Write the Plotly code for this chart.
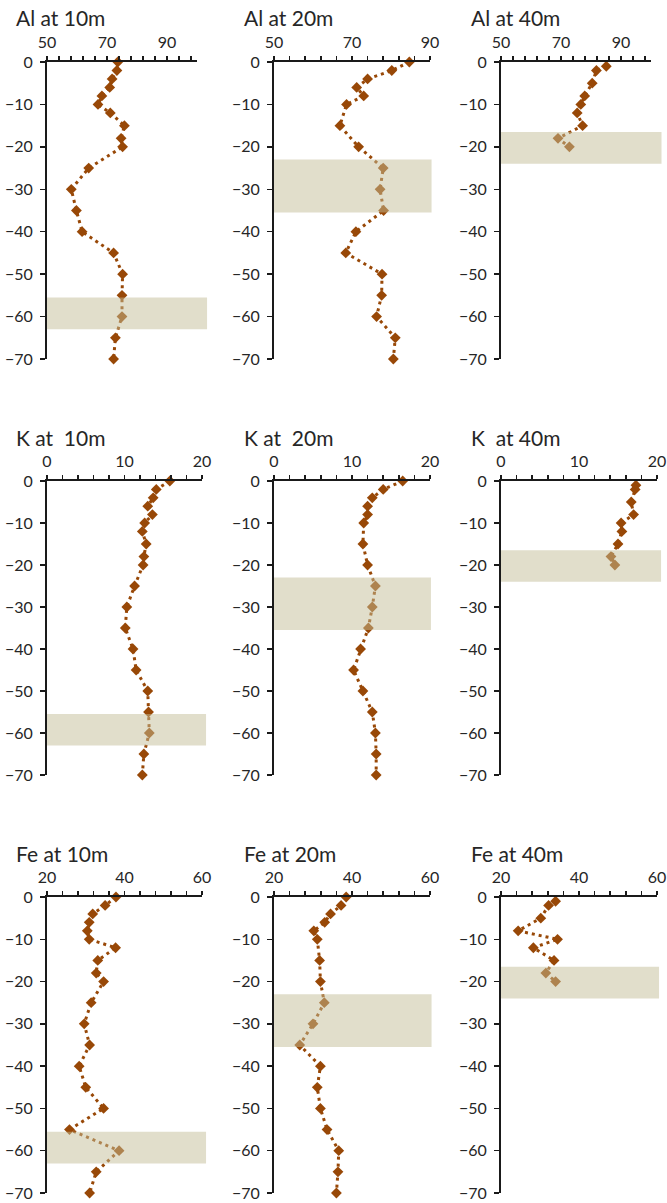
import plotly.graph_objects as go

# ---------------- data ----------------
depth_10m = [0, -2, -4, -6, -8, -10, -12, -15, -18, -20, -25, -30, -35, -40, -45, -50, -55, -60, -65, -70]
depth_20m = [0, -2, -4, -6, -8, -10, -15, -20, -25, -30, -35, -40, -45, -50, -55, -60, -65, -70]
depth_40m = [-1, -2, -5, -8, -10, -12, -15, -18, -20]

al_10m = [73.6, 73.3, 71.7, 70.9, 68.3, 67.0, 71.1, 75.8, 74.7, 75.2, 63.9, 58.1, 59.8, 61.7, 72.2, 75.2, 75.0, 75.0, 72.8, 72.2]
al_20m = [84.7, 80.2, 74.0, 71.2, 73.0, 68.6, 66.9, 71.7, 78.0, 77.2, 78.1, 71.0, 68.4, 77.7, 77.6, 76.3, 81.1, 80.6]
al_40m = [85.1, 81.8, 80.4, 77.9, 76.6, 75.4, 77.2, 69.0, 72.8]

k_10m = [15.85, 14.1, 13.7, 13.0, 13.6, 12.6, 12.3, 12.8, 12.5, 12.4, 11.3, 10.3, 10.1, 11.1, 11.5, 13.0, 13.1, 13.2, 12.5, 12.3]
k_20m = [16.5, 14.0, 12.6, 12.0, 12.0, 11.5, 11.4, 12.0, 13.0, 12.6, 12.1, 11.1, 10.2, 11.4, 12.6, 13.0, 13.1, 13.1]
k_40m = [17.3, 17.2, 16.7, 17.0, 15.4, 15.5, 15.0, 14.1, 14.6]

fe_10m = [37.8, 35.0, 31.8, 30.9, 30.4, 30.9, 37.7, 33.1, 32.7, 34.6, 31.4, 29.6, 31.0, 28.3, 30.0, 34.6, 25.8, 38.6, 32.7, 31.0]
fe_20m = [38.5, 37.2, 34.5, 33.0, 30.2, 31.1, 31.7, 31.9, 32.9, 30.0, 26.6, 31.9, 31.1, 31.9, 33.6, 36.6, 36.4, 36.0]
fe_40m = [34.0, 32.2, 30.2, 24.4, 34.5, 28.3, 33.6, 31.5, 34.0]

titles = [["Al at 10m", "Al at 20m", "Al at 40m"],
          ["K at  10m", "K at  20m", "K  at 40m"],
          ["Fe at 10m", "Fe at 20m", "Fe at 40m"]]

x_ranges = [[[50, 100], [50, 90], [50, 100]],
            [[0, 20], [0, 20], [0, 20]],
            [[20, 60], [20, 60], [20, 60]]]
x_major = [20, 10, 20]
x_minor = [4, 2, 4]

band_10m = [-63, -55.5]
band_20m = [-35.5, -23]
band_40m = [-24, -16.5]

y_range = [-70, 0]
y_ticks = [0, -10, -20, -30, -40, -50, -60, -70]

# ---------------- layout geometry (pixels) ----------------
W, H = 667, 1203
col_px = [[(47, 197), (274, 430), (501, 651)],
          [(47, 202), (274, 430), (501, 657)],
          [(47, 202), (274, 430), (501, 657)]]
row_px = [(62, 359), (481, 775), (897, 1193)]
title_x = [14, 242, 469]
title_y = [18, 438, 853]
band_ext = [[1.067, 1.01, 1.07], [1.026, 1.006, 1.026], [1.026, 1.01, 1.013]]

MARK = "#984807"
BAND = "rgba(196,189,151,0.5)"
TXT = "#262626"
FONT = "Lato"
TICK_SIZE = 16
TITLE_SIZE = 21

series = [[al_10m, al_20m, al_40m], [k_10m, k_20m, k_40m], [fe_10m, fe_20m, fe_40m]]
depths = [depth_10m, depth_20m, depth_40m]
bands = [band_10m, band_20m, band_40m]

fig = go.Figure()
layout = dict(template="none", width=W, height=H, margin=dict(l=0, r=0, t=0, b=0, pad=0),
              paper_bgcolor="white", plot_bgcolor="white", showlegend=False,
              font=dict(family=FONT, color=TXT))
shapes = []
annotations = []

n = 0
for r in range(3):
    for c in range(3):
        n += 1
        xa = "x" if n == 1 else f"x{n}"
        ya = "y" if n == 1 else f"y{n}"
        fig.add_trace(go.Scatter(
            x=series[r][c], y=depths[c], mode="lines+markers",
            xaxis=xa, yaxis=ya, cliponaxis=False,
            line=dict(color=MARK, width=3, dash="3px,4px"),
            marker=dict(symbol="diamond", size=8.3, color=MARK, line=dict(width=0)),
        ))
        x0p, x1p = col_px[r][c]
        y0p, y1p = row_px[r]
        layout["xaxis" if n == 1 else f"xaxis{n}"] = dict(
            domain=[x0p / W, x1p / W], range=x_ranges[r][c], anchor=ya,
            side="top", showgrid=False, zeroline=False, showline=True, automargin=False,
            linecolor="#1a1a1a", linewidth=2, ticks="outside", ticklen=4,
            tickwidth=1.5, tickcolor="#1a1a1a",
            tick0=x_ranges[r][c][0], dtick=x_major[r],
            minor=dict(dtick=x_minor[r], tick0=x_ranges[r][c][0], ticks="outside",
                       ticklen=4, tickwidth=1.5, tickcolor="#1a1a1a", showgrid=False),
            tickfont=dict(size=TICK_SIZE, family=FONT, color=TXT), ticklabelstandoff=2,
            fixedrange=True,
        )
        layout["yaxis" if n == 1 else f"yaxis{n}"] = dict(
            domain=[1 - y1p / H, 1 - y0p / H], range=y_range, anchor=xa,
            showgrid=False, zeroline=False, showline=True, automargin=False,
            linecolor="#1a1a1a", linewidth=2, ticks="outside", ticklen=5,
            tickwidth=1.5, tickcolor="#1a1a1a",
            tickvals=y_ticks, tickfont=dict(size=TICK_SIZE, family=FONT, color=TXT),
            ticklabelstandoff=4, fixedrange=True,
        )
        shapes.append(dict(type="rect", xref=f"{xa} domain", yref=ya,
                           x0=0, x1=band_ext[r][c], y0=bands[c][0], y1=bands[c][1],
                           fillcolor=BAND, line=dict(width=0), layer="above"))
        annotations.append(dict(text=titles[r][c], xref="paper", yref="paper",
                                x=title_x[c] / W, y=1 - title_y[r] / H,
                                xanchor="left", yanchor="middle", showarrow=False,
                                font=dict(size=TITLE_SIZE, family=FONT, color=TXT)))

layout["shapes"] = shapes
layout["annotations"] = annotations
fig.update_layout(**layout)
fig.write_html("out.html", config={"displayModeBar": False, "staticPlot": True},
               post_script="document.body.style.margin='0';document.body.style.overflow='hidden';")
